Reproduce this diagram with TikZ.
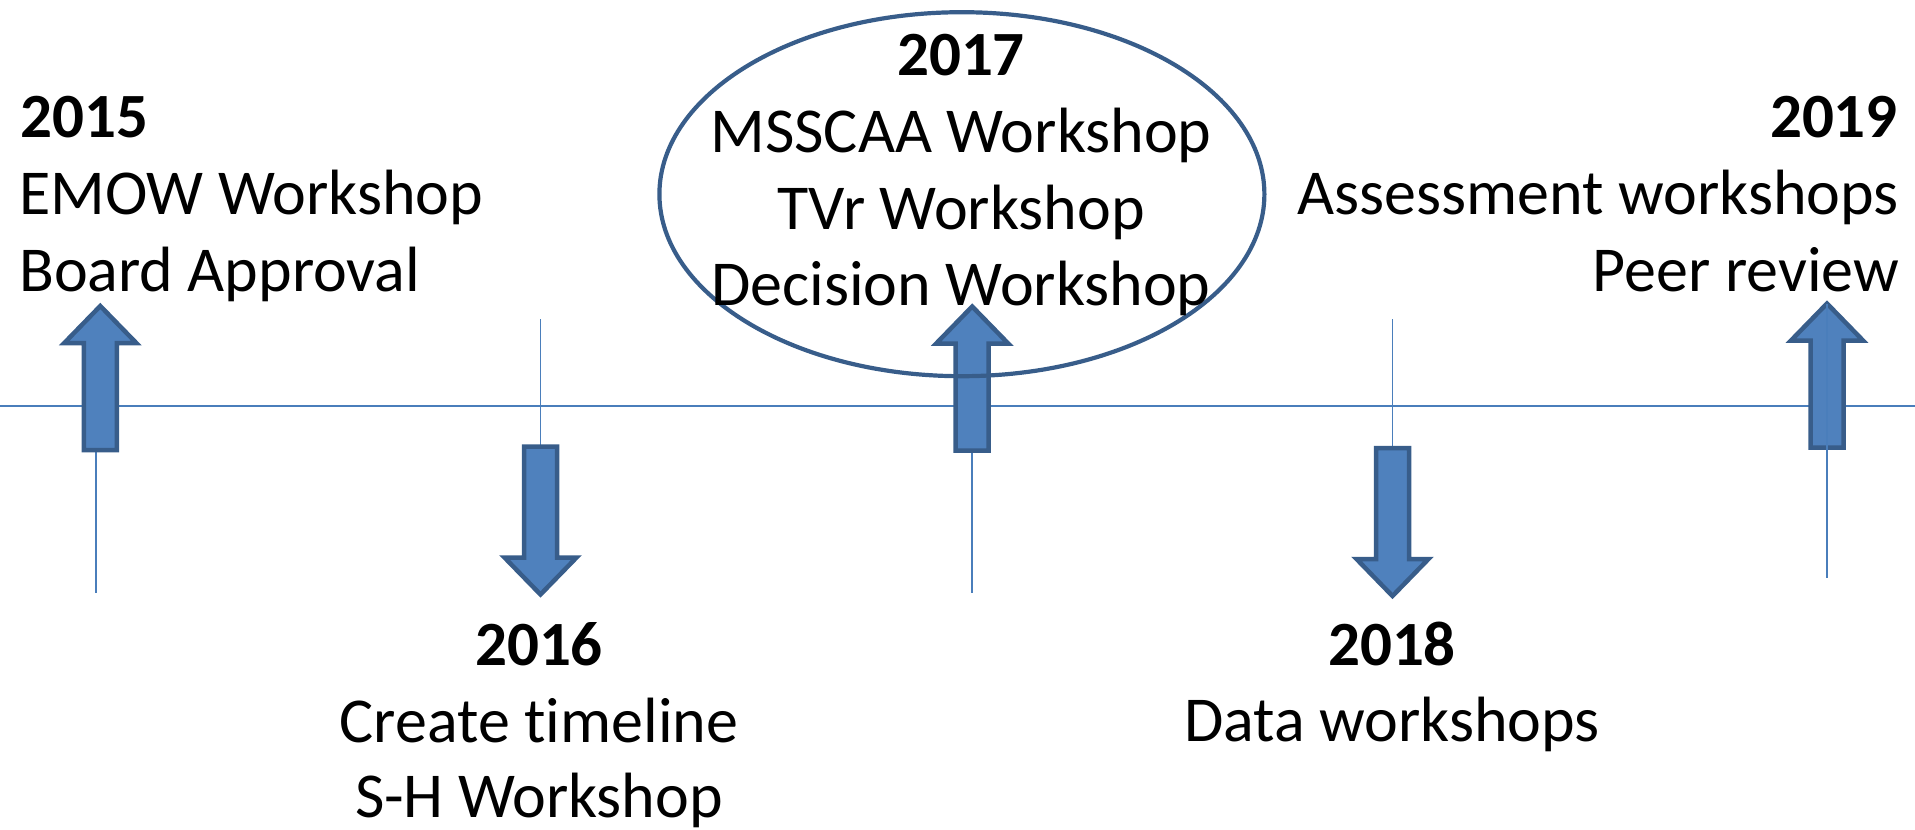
\documentclass[tikz,border=0pt]{standalone}
\usepackage{fontspec}
\setmainfont{Carlito}[Ligatures=NoCommon]
\definecolor{tlblue}{HTML}{4A7EBB}
\definecolor{arrfill}{HTML}{4F81BD}
\definecolor{arrline}{HTML}{385D8A}
\tikzset{
  txt/.style={inner sep=0pt, font=\fontsize{64}{77}\selectfont},
  yr/.style={txt, font=\fontsize{63}{77}\selectfont\bfseries},
  thinline/.style={draw=tlblue, line width=1.8pt},
  arrowbox/.style={fill=arrfill, draw=arrline, line width=4.5pt, line join=miter},
  ringstyle/.style={draw=arrline, line width=4.2pt},
  uparr/.pic={\path[arrowbox] (0,0) -- (36,37) -- (16.5,37) -- (16.5,144) -- (-16.5,144) -- (-16.5,37) -- (-36,37) -- cycle;},
  downarr/.pic={\path[arrowbox] (0,0) -- (36,-37) -- (16.5,-37) -- (16.5,-148) -- (-16.5,-148) -- (-16.5,-37) -- (-36,-37) -- cycle;}
}
\begin{document}
\begin{tikzpicture}[x=1pt,y=-1pt]
\useasboundingbox (0,0) rectangle (1915,830);
% axis
\coordinate (axL) at (0,406);
\coordinate (axR) at (1915,406);
\draw[thinline] (axL) -- (axR);
% vertical ticks
\coordinate (t15a) at (96,420); \coordinate (t15b) at (96,593);
\coordinate (t16a) at (540.5,319); \coordinate (t16b) at (540.5,460);
\coordinate (t17a) at (972,420); \coordinate (t17b) at (972,593);
\coordinate (t18a) at (1392.5,319); \coordinate (t18b) at (1392.5,460);
\coordinate (t19a) at (1827,304); \coordinate (t19b) at (1827,578);
\draw[thinline] (t15a) -- (t15b);
\draw[thinline] (t16a) -- (t16b);
\draw[thinline] (t17a) -- (t17b);
\draw[thinline] (t18a) -- (t18b);
% block arrows
\pic (a15) at (100.3,306) {uparr};
\pic (a16) at (540.5,594.5) {downarr};
\pic (a17) at (972.2,306.5) {uparr};
\pic (a18) at (1392.5,596) {downarr};
\pic (a19) at (1827,303.5) {uparr};
\draw[thinline] (t19a) -- (t19b);
% ellipse
\draw[ringstyle] (961.9,194.2) ellipse [x radius=302.5, y radius=182];
% texts
\node[yr, anchor=base west] (y15) at (20,137) {2015};
\node[txt, anchor=base west] (l15a) at (19,214) {EMOW Workshop};
\node[txt, anchor=base west] (l15b) at (19,291) {Board Approval};
\node[yr, anchor=base] (y16) at (539,665) {2016};
\node[txt, anchor=base] (l16a) at (539,742) {Create timeline};
\node[txt, anchor=base] (l16b) at (539,817) {S-H Workshop};
\node[yr, anchor=base] (y17) at (961,75) {2017};
\node[txt, anchor=base] (l17a) at (961,152) {MSSCAA Workshop};
\node[txt, anchor=base] (l17b) at (961,229) {TVr Workshop};
\node[txt, anchor=base] (l17c) at (961,305) {Decision Workshop};
\node[yr, anchor=base] (y18) at (1392,665) {2018};
\node[txt, anchor=base] (l18a) at (1392,741) {Data workshops};
\node[yr, anchor=base east] (y19) at (1898,137) {2019};
\node[txt, anchor=base east] (l19a) at (1899,214) {Assessment workshops};
\node[txt, anchor=base east] (l19b) at (1899,291) {Peer review};
\end{tikzpicture}
\end{document}
